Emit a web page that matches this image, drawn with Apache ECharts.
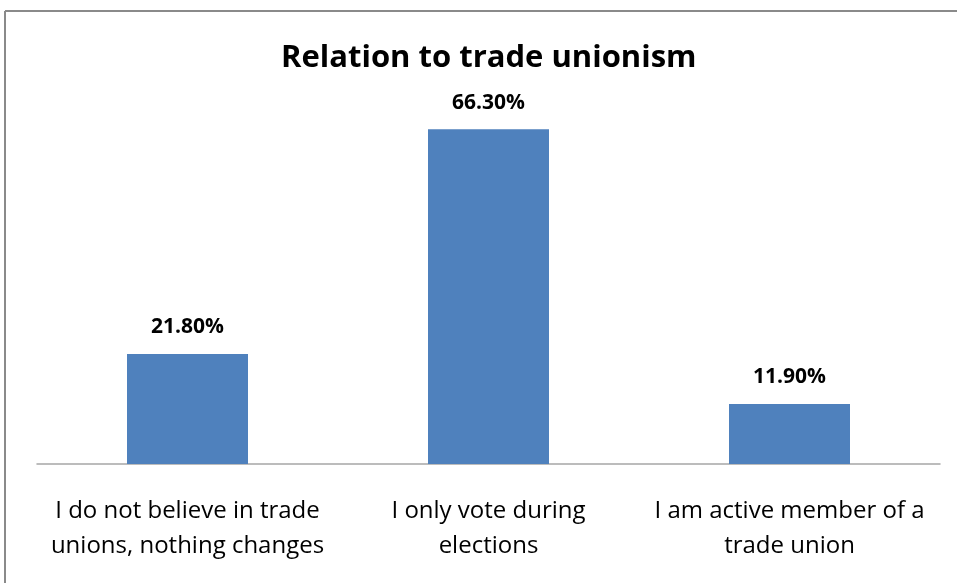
<!DOCTYPE html>
<html><head><meta charset="utf-8">
<script src="https://cdn.jsdelivr.net/npm/echarts@6/dist/echarts.min.js"></script>
<style>html,body{margin:0;padding:0;background:#fff}#c{width:957px;height:583px}</style>
</head><body><div id="c"></div>
<script>
const categories = ["I do not believe in trade\nunions, nothing changes", "I only vote during\nelections", "I am active member of a\ntrade union"];
const values = [21.8, 66.3, 11.9];
const titleText = "Relation to trade unionism";

const FONT = "'Open Sans', sans-serif";
const chart = echarts.init(document.getElementById('c'), null, {renderer: 'canvas'});
chart.setOption({
  backgroundColor: '#ffffff',
  animation: false,
  title: {
    text: titleText, left: 276, top: 38, padding: 5,
    textStyle: {fontFamily: FONT, fontSize: 31, fontWeight: 'bold', color: '#000'}
  },
  graphic: [
    {type: 'line', shape: {x1: 5, y1: 11, x2: 957, y2: 11}, style: {stroke: '#8a8a8a', lineWidth: 2}},
    {type: 'line', shape: {x1: 5, y1: 11, x2: 5, y2: 583}, style: {stroke: '#8a8a8a', lineWidth: 2}}
  ],
  grid: {left: 37, right: 17, top: 110.5, bottom: 119, containLabel: false},
  xAxis: {
    type: 'category', data: categories,
    axisLine: {lineStyle: {color: '#a6a6a6', width: 1.5}},
    axisTick: {show: false},
    axisLabel: {interval: 0, margin: 30, fontFamily: FONT, fontSize: 24, color: '#000', lineHeight: 35}
  },
  yAxis: {type: 'value', min: 0, max: 70, show: false, splitLine: {show: false}},
  series: [{
    type: 'bar', data: values, barWidth: 121,
    itemStyle: {color: '#4f81bd'},
    label: {
      show: true, position: 'top', distance: 16,
      formatter: p => p.value.toFixed(2) + '%',
      fontFamily: FONT, fontSize: 21, fontWeight: 'bold', color: '#000'
    }
  }]
});
</script></body></html>
